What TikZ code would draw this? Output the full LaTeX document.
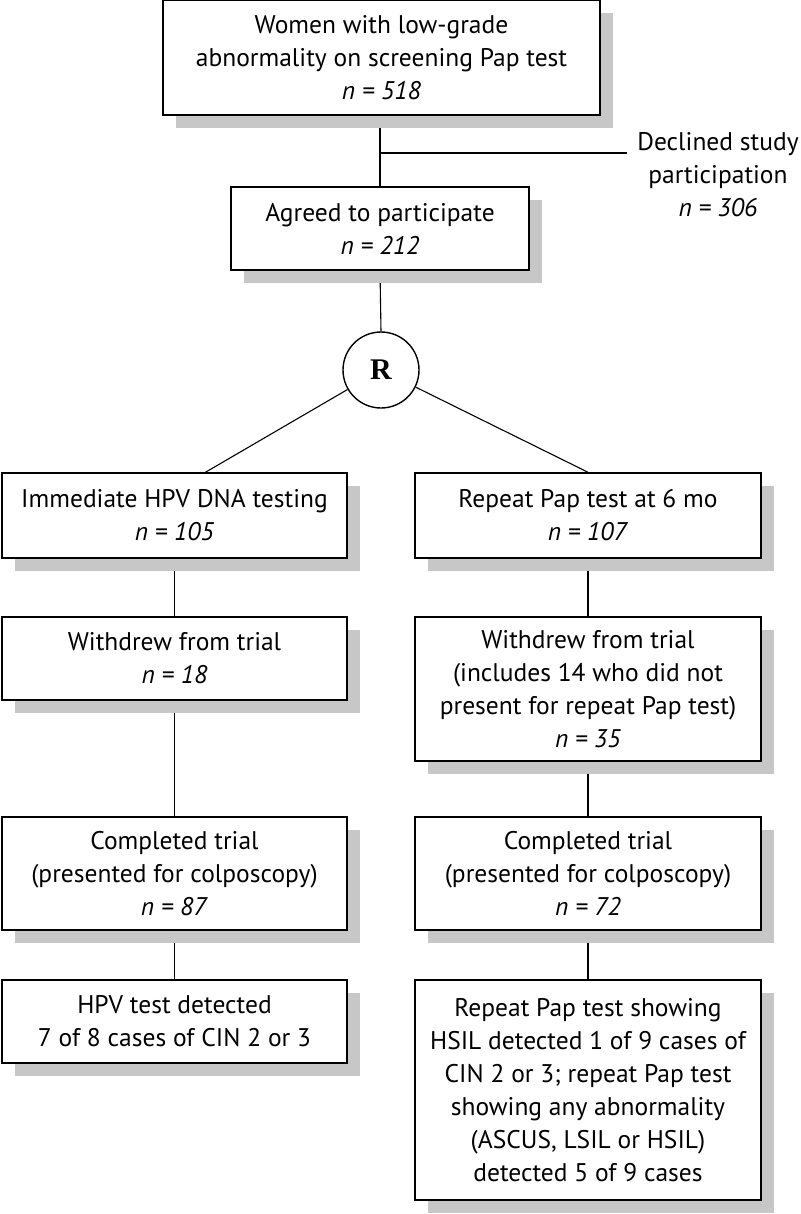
\documentclass[tikz,border=0pt]{standalone}
\usepackage{fontspec}
\setmainfont{PT Sans}
\newfontfamily\rfont{Liberation Serif}
\usetikzlibrary{shadows,calc}
\pgfdeclarelayer{background}
\pgfsetlayers{background,main}
\tikzset{
  box/.style={draw, line width=1.5pt, fill=white, align=center, inner sep=0pt,
    font=\fontsize{25.5}{33}\selectfont,
    drop shadow={shadow xshift=13pt, shadow yshift=-13pt, fill=black!22, opacity=1}},
  conn/.style={line width=1.1pt},
  lbl/.style={align=center, inner sep=0pt, font=\fontsize{25.5}{33}\selectfont},
}
\begin{document}
\begin{tikzpicture}[x=1pt,y=-1pt]
\useasboundingbox (0,0) rectangle (800,1214);
% boxes
\node[box, minimum width=437pt, minimum height=115pt] (top) at (381.5,57.5)
  {Women with low-grade\\abnormality on screening Pap test\\\textit{n = 518}};
\node[lbl] (decl) at (718,175) {Declined study\\participation\\\textit{n = 306}};
\node[box, minimum width=298pt, minimum height=83pt] (agr) at (380,228.5)
  {Agreed to participate\\\textit{n = 212}};
\node[draw, circle, line width=1.4pt, fill=white, minimum size=76pt, inner sep=0pt,
  font=\rfont\bfseries\fontsize{30}{34}\selectfont] (R) at (381,370) {R};
\node[box, minimum width=345pt, minimum height=85pt] (L1) at (174.5,515.5)
  {Immediate HPV DNA testing\\\textit{n = 105}};
\node[box, minimum width=346pt, minimum height=85pt] (R1) at (588,515.5)
  {Repeat Pap test at 6 mo\\\textit{n = 107}};
\node[box, minimum width=345pt, minimum height=83pt] (L2) at (174.5,658.5)
  {Withdrew from trial\\\textit{n = 18}};
\node[box, minimum width=346pt, minimum height=144pt] (R2) at (588,689)
  {Withdrew from trial\\(includes 14 who did not\\present for repeat Pap test)\\\textit{n = 35}};
\node[box, minimum width=345pt, minimum height=113pt] (L3) at (174.5,873.5)
  {Completed trial\\(presented for colposcopy)\\\textit{n = 87}};
\node[box, minimum width=346pt, minimum height=113pt] (R3) at (588,873.5)
  {Completed trial\\(presented for colposcopy)\\\textit{n = 72}};
\node[box, minimum width=345pt, minimum height=83pt] (L4) at (174.5,1021.5)
  {HPV test detected\\7 of 8 cases of CIN 2 or 3};
\node[box, minimum width=346pt, minimum height=220pt] (R4) at (588,1090)
  {Repeat Pap test showing\\HSIL detected 1 of 9 cases of\\CIN 2 or 3; repeat Pap test\\showing any abnormality\\(ASCUS, LSIL or HSIL)\\detected 5 of 9 cases};
\coordinate (br) at (380,153);
\coordinate (brend) at (627,153);
\begin{pgfonlayer}{background}
\draw[conn] (top.south -| agr.north) -- (agr.north);
\draw[conn] (br) -- (brend);
\draw[conn] (agr.south) -- (R.north);
\draw[conn] (R) -- ($(L1.north)+(31,0)$);
\draw[conn] (R) -- (R1.north);
\draw[conn] (L1) -- (L2);
\draw[conn] (L2) -- (L3);
\draw[conn] (L3) -- (L4);
\draw[conn] (R1) -- (R2);
\draw[conn] (R2) -- (R3);
\draw[conn] (R3) -- (R4);
\end{pgfonlayer}
\end{tikzpicture}
\end{document}
